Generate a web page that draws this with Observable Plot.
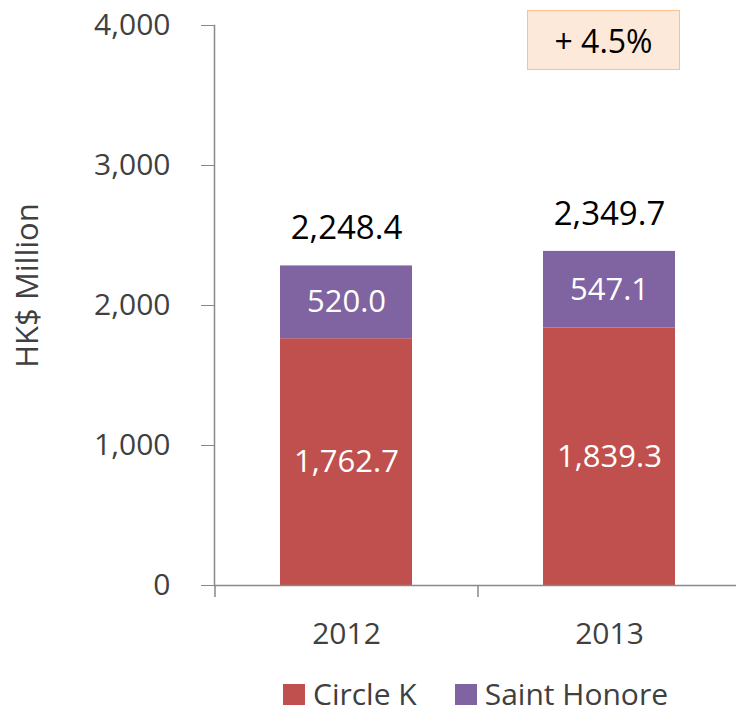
<!DOCTYPE html>
<html>
<head>
<meta charset="utf-8">
<script src="https://cdn.jsdelivr.net/npm/d3@7"></script>
<script src="https://cdn.jsdelivr.net/npm/@observablehq/plot@0.6"></script>
<style>
  body { margin: 0; background: #fff; font-family: "Open Sans", sans-serif; }
  #wrap { position: relative; width: 736px; height: 717px; overflow: hidden; }
  #growth { position: absolute; left: 527px; top: 10px; width: 153px; height: 60px;
    background: #FDE9D9; border: 1.5px solid #FAC090; box-sizing: border-box;
    display: flex; align-items: center; justify-content: center; font-size: 32px; color: #000; }
  #legend { display: flex; align-items: center; padding-left: 283px; margin-top: 16px;
    font-size: 30px; color: #404040; line-height: 26px; height: 26px; }
  .sw { width: 22px; height: 21px; display: inline-block; margin-right: 8px; }
</style>
</head>
<body>
<div id="wrap">
  <div id="chart"></div>
  <div id="legend"></div>
  <div id="growth"></div>
</div>
<script>
const years = ["2012", "2013"];
const circleK = [1762.7, 1839.3];
const saintHonore = [520.0, 547.1];
const totalLabels = ["2,248.4", "2,349.7"];
const seriesNames = ["Circle K", "Saint Honore"];
const seriesColors = ["#C0504D", "#8064A2"];
const yTicks = [0, 1000, 2000, 3000, 4000];
const growthLabel = "+ 4.5%";
const yTitle = "HK$ Million";

const rows = [];
years.forEach((yr, i) => {
  rows.push({year: yr, series: seriesNames[0], value: circleK[i]});
  rows.push({year: yr, series: seriesNames[1], value: saintHonore[i]});
});
const totals = years.map((yr, i) => ({year: yr, value: circleK[i] + saintHonore[i], label: totalLabels[i]}));
const fmt = d3.format(",.1f");

const plot = Plot.plot({
  width: 736,
  height: 665,
  marginLeft: 214,
  marginRight: 0,
  marginTop: 25,
  marginBottom: 80,
  style: {fontFamily: "'Open Sans', sans-serif", background: "#fff"},
  x: {domain: years, paddingInner: 0.5, paddingOuter: 0.25, range: [214, 740], label: null},
  y: {domain: [0, 4000], label: null},
  color: {domain: seriesNames, range: seriesColors},
  marks: [
    Plot.barY(rows, {x: "year", y: "value", fill: "series", order: seriesNames}),
    Plot.text(rows, Plot.stackY({x: "year", y: "value", z: "series", order: seriesNames,
      text: d => fmt(d.value), fill: "white", fontSize: 31})),
    Plot.text(totals, {x: "year", y: "value", text: "label", dy: -37, fontSize: 33, fill: "#000"}),
    Plot.ruleY([0], {stroke: "#898989", strokeWidth: 1.5}),
    Plot.ruleX(years, {x: d => d, dx: -131.5, y1: 0, y2: -85, stroke: "#898989", strokeWidth: 1.5}),
    Plot.frame({anchor: "left", stroke: "#898989", strokeWidth: 1.5}),
    Plot.axisY({ticks: yTicks, tickFormat: d3.format(",.0f"), tickSize: 13, tickPadding: 31, fontSize: 30,
      color: "#898989", label: null}),
    Plot.axisX({tickSize: 0, tickPadding: 37, fontSize: 30, label: null}),
    Plot.text([yTitle], {frameAnchor: "left", textAnchor: "middle", dx: -186, dy: -20, rotate: -90,
      fontSize: 31, fill: "#404040", text: d => d})
  ]
});
plot.querySelectorAll("[aria-label='y-axis tick label'], [aria-label='x-axis tick label']").forEach(g => g.setAttribute("fill", "#404040"));
plot.querySelectorAll("[aria-label='y-axis tick label'] text, [aria-label='x-axis tick label'] text").forEach(t => t.setAttribute("fill", "#404040"));
document.getElementById("chart").appendChild(plot);

const legend = document.getElementById("legend");
seriesNames.forEach((name, i) => {
  const item = document.createElement("span");
  item.style.display = "inline-flex";
  item.style.alignItems = "center";
  item.style.marginRight = "38px";
  item.innerHTML = `<span class="sw" style="background:${seriesColors[i]}"></span>${name}`;
  legend.appendChild(item);
});
document.getElementById("growth").textContent = growthLabel;
</script>
</body>
</html>
